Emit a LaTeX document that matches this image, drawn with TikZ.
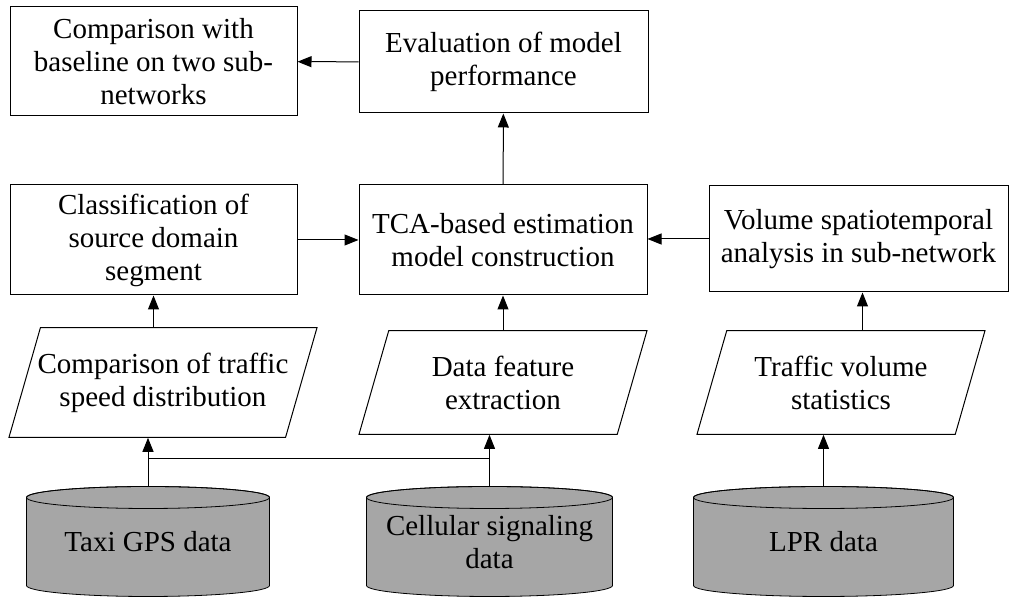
\documentclass[tikz,border=0pt]{standalone}
\usepackage{fontspec}
\setmainfont{Liberation Serif}
\usetikzlibrary{shapes.geometric,arrows.meta,calc,backgrounds}
\definecolor{storegray}{RGB}{166,166,166}
\tikzset{>={Triangle[length=7pt,width=5.5pt]}}
\tikzset{
  procbox/.style={draw,line width=0.5pt,align=center,inner sep=1pt},
  iobox/.style={trapezium,trapezium left angle=74,trapezium right angle=106,
    trapezium stretches body,draw,line width=0.5pt,align=center,
    inner xsep=1pt,inner ysep=12.5pt},
  store/.style={align=center,inner sep=1pt,text depth=0pt,minimum height=54.5pt}
}
\begin{document}
\begin{tikzpicture}[x=0.5pt,y=-0.5pt,font=\fontsize{14.5}{16.5}\selectfont,line width=0.5pt]
    \useasboundingbox (0,0) rectangle (1009,597);
    % top row
    \node[procbox,minimum width=143.5pt,minimum height=54.5pt](cmp) at (153.5,61.5)
        {Comparison with\\baseline on two sub-\\networks};
    \node[procbox,minimum width=144.5pt,minimum height=51pt](eval) at (503.5,62)
        {Evaluation of model\\performance};
    % middle row
    \node[procbox,minimum width=143.5pt,minimum height=55pt](cls) at (153.5,240)
        {Classification of\\source domain\\segment};
    \node[procbox,minimum width=144pt,minimum height=55pt](tca) at (503,240)
        {TCA-based estimation\\model construction};
    \node[procbox,minimum width=149.5pt,minimum height=53pt](vol) at (858.5,239)
        {Volume spatiotemporal\\analysis in sub-network};
    % data processing
    \node[iobox,minimum width=154pt,inner xsep=-2.5pt](speed) at (163,382.5)
        {Comparison of traffic\\speed distribution};
    \node[iobox,minimum width=144pt](feat) at (503,382.5)
        {Data feature\\extraction};
    \node[iobox,minimum width=144pt](stat) at (841,382.5)
        {Traffic volume\\statistics};
    % data sources
    \node[store,minimum width=121pt](taxi) at (148,541.5) {Taxi GPS data};
    \node[store,minimum width=122.5pt](cell) at (489.5,541.5) {Cellular signaling\\data};
    \node[store,minimum width=129.5pt](lpr) at (823.5,541.5) {LPR data};
    \begin{scope}[on background layer]
        \foreach \db in {taxi,cell,lpr}{
            \draw[fill=storegray] let \p1=(\db.west), \p2=(\db.east), \n1={0.5*(\x2-\x1)} in
                ([yshift=-5.5pt]\db.north west) -- ([yshift=5.5pt]\db.south west)
                arc[start angle=180,end angle=360,x radius=\n1,y radius=5.5pt]
                -- ([yshift=-5.5pt]\db.north east)
                arc[start angle=0,end angle=180,x radius=\n1,y radius=5.5pt] -- cycle;
            \draw let \p1=(\db.west), \p2=(\db.east), \n1={0.5*(\x2-\x1)} in
                ([yshift=-5.5pt]\db.north) ellipse[x radius=\n1,y radius=5.5pt];
        }
    \end{scope}
    % connectors
    \draw[->] (eval) -- (cmp);
    \draw[->] (tca) -- (eval);
    \draw[->] (cls) -- (tca);
    \draw[->] (vol) -- (tca.east |- vol.west);
    \draw[->] (cls.south |- speed.north) -- (cls.south);
    \draw[->] (tca.south |- feat.north) -- (tca.south);
    \draw[->] ([xshift=2pt]vol.south |- stat.north) -- ([xshift=2pt]vol.south);
    \draw[->] (taxi.north) -- (taxi.north |- speed.south);
    \draw[->] (taxi.north) -- ++(0,-28) -| (cell.north |- feat.south);
    \draw (cell.north) -- ++(0,-28);
    \draw[->] (lpr.north) -- (lpr.north |- stat.south);
\end{tikzpicture}
\end{document}
